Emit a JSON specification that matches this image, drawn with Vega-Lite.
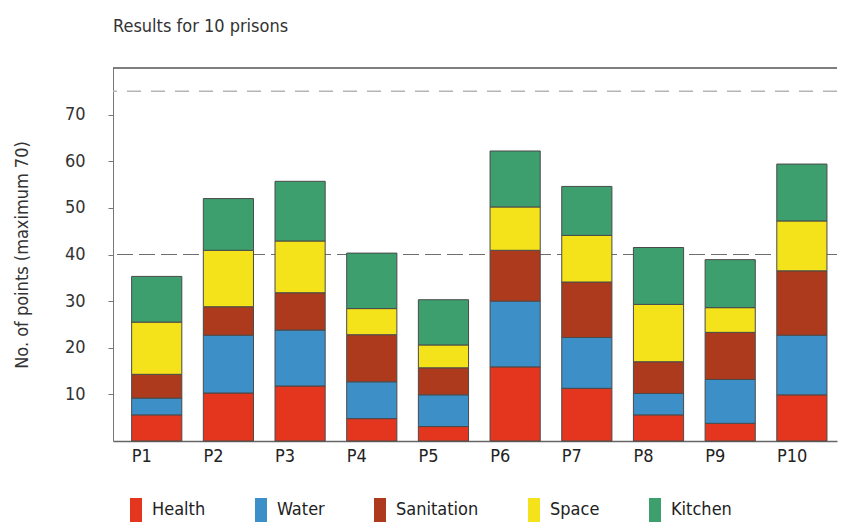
{
  "$schema": "https://vega.github.io/schema/vega-lite/v6.json",
  "width": 724,
  "height": 373,
  "autosize": {"type": "none"},
  "padding": {"left": 113, "top": 68, "right": 5, "bottom": 88},
  "background": "white",
  "title": {
    "text": "Results for 10 prisons",
    "anchor": "start",
    "frame": "group",
    "dx": 0,
    "offset": 31,
    "fontSize": 18,
    "fontWeight": "normal",
    "color": "#333333",
    "font": "DejaVu Sans Condensed"
  },
  "config": {
    "view": {"stroke": null},
    "font": "DejaVu Sans Condensed",
    "axis": {"labelFont": "DejaVu Sans Condensed", "titleFont": "DejaVu Sans Condensed"},
    "legend": {"labelFont": "DejaVu Sans Condensed"}
  },
  "layer": [
    {
      "data": {"values": [{"points": 80}]},
      "mark": {"type": "rule", "color": "#555555", "strokeWidth": 1.5},
      "encoding": {
        "y": {"field": "points", "type": "quantitative", "title": "No. of points (maximum 70)", "scale": {"domain": [0, 80], "nice": false, "zero": true}}
      }
    },
    {
      "data": {"values": [{"points": 75}]},
      "mark": {"type": "rule", "color": "#b5b5b5", "strokeWidth": 1.5, "strokeDash": [14, 10]},
      "encoding": {
        "y": {"field": "points", "type": "quantitative", "title": "No. of points (maximum 70)"}
      }
    },
    {
      "data": {"values": [{"points": 40}]},
      "mark": {"type": "rule", "color": "#6e6e6e", "strokeWidth": 1.2, "strokeDash": [16, 6]},
      "encoding": {
        "y": {"field": "points", "type": "quantitative", "title": "No. of points (maximum 70)"}
      }
    },
    {
      "data": {"values": [
        {"prison": "P1", "factor": "Health", "points": 5.6},
        {"prison": "P1", "factor": "Water", "points": 3.6},
        {"prison": "P1", "factor": "Sanitation", "points": 5.1},
        {"prison": "P1", "factor": "Space", "points": 11.2},
        {"prison": "P1", "factor": "Kitchen", "points": 9.8},
        {"prison": "P2", "factor": "Health", "points": 10.3},
        {"prison": "P2", "factor": "Water", "points": 12.4},
        {"prison": "P2", "factor": "Sanitation", "points": 6.1},
        {"prison": "P2", "factor": "Space", "points": 12.1},
        {"prison": "P2", "factor": "Kitchen", "points": 11.1},
        {"prison": "P3", "factor": "Health", "points": 11.8},
        {"prison": "P3", "factor": "Water", "points": 12.0},
        {"prison": "P3", "factor": "Sanitation", "points": 8.0},
        {"prison": "P3", "factor": "Space", "points": 11.1},
        {"prison": "P3", "factor": "Kitchen", "points": 12.8},
        {"prison": "P4", "factor": "Health", "points": 4.8},
        {"prison": "P4", "factor": "Water", "points": 7.9},
        {"prison": "P4", "factor": "Sanitation", "points": 10.1},
        {"prison": "P4", "factor": "Space", "points": 5.6},
        {"prison": "P4", "factor": "Kitchen", "points": 11.9},
        {"prison": "P5", "factor": "Health", "points": 3.1},
        {"prison": "P5", "factor": "Water", "points": 6.8},
        {"prison": "P5", "factor": "Sanitation", "points": 5.8},
        {"prison": "P5", "factor": "Space", "points": 4.9},
        {"prison": "P5", "factor": "Kitchen", "points": 9.7},
        {"prison": "P6", "factor": "Health", "points": 15.9},
        {"prison": "P6", "factor": "Water", "points": 14.1},
        {"prison": "P6", "factor": "Sanitation", "points": 10.9},
        {"prison": "P6", "factor": "Space", "points": 9.3},
        {"prison": "P6", "factor": "Kitchen", "points": 12.0},
        {"prison": "P7", "factor": "Health", "points": 11.3},
        {"prison": "P7", "factor": "Water", "points": 10.9},
        {"prison": "P7", "factor": "Sanitation", "points": 11.9},
        {"prison": "P7", "factor": "Space", "points": 10.0},
        {"prison": "P7", "factor": "Kitchen", "points": 10.5},
        {"prison": "P8", "factor": "Health", "points": 5.6},
        {"prison": "P8", "factor": "Water", "points": 4.6},
        {"prison": "P8", "factor": "Sanitation", "points": 6.8},
        {"prison": "P8", "factor": "Space", "points": 12.3},
        {"prison": "P8", "factor": "Kitchen", "points": 12.2},
        {"prison": "P9", "factor": "Health", "points": 3.8},
        {"prison": "P9", "factor": "Water", "points": 9.4},
        {"prison": "P9", "factor": "Sanitation", "points": 10.1},
        {"prison": "P9", "factor": "Space", "points": 5.3},
        {"prison": "P9", "factor": "Kitchen", "points": 10.3},
        {"prison": "P10", "factor": "Health", "points": 9.9},
        {"prison": "P10", "factor": "Water", "points": 12.8},
        {"prison": "P10", "factor": "Sanitation", "points": 13.8},
        {"prison": "P10", "factor": "Space", "points": 10.7},
        {"prison": "P10", "factor": "Kitchen", "points": 12.2}
      ]},
      "transform": [
        {"calculate": "indexof(['Health','Water','Sanitation','Space','Kitchen'], datum.factor)", "as": "stackOrder"}
      ],
      "mark": {"type": "bar", "stroke": "#4a4a4a", "strokeWidth": 1},
      "encoding": {
        "x": {
          "field": "prison",
          "type": "nominal",
          "sort": ["P1", "P2", "P3", "P4", "P5", "P6", "P7", "P8", "P9", "P10"],
          "scale": {"paddingInner": 0.3, "paddingOuter": 0.2, "align": 0.65},
          "axis": {
            "title": null,
            "labelAngle": 0,
            "labelAlign": "left",
            "labelOffset": -25,
            "labelFontSize": 18,
            "labelColor": "#222222",
            "labelPadding": 6,
            "ticks": false,
            "domainColor": "#666666",
            "domainWidth": 1.5
          }
        },
        "y": {
          "field": "points",
          "type": "quantitative",
          "title": "No. of points (maximum 70)",
          "axis": {
            "values": [10, 20, 30, 40, 50, 60, 70],
            "grid": false,
            "labelFontSize": 18,
            "labelColor": "#333333",
            "labelPadding": 23,
            "tickColor": "#777777",
            "tickSize": 5,
            "domainColor": "#777777",
            "titleFontSize": 18,
            "titleFontWeight": "normal",
            "titleColor": "#333333",
            "titlePadding": 33
          }
        },
        "color": {
          "field": "factor",
          "type": "nominal",
          "scale": {
            "domain": ["Health", "Water", "Sanitation", "Space", "Kitchen"],
            "range": ["#e4361f", "#3d8fc8", "#ae3a1d", "#f4e21a", "#3e9f6e"]
          },
          "legend": {
            "title": null,
            "orient": "none",
            "direction": "horizontal",
            "columns": 5,
            "legendX": 11,
            "legendY": 430,
            "symbolType": "M-0.5,-1H0.5V1H-0.5Z",
            "symbolSize": 576,
            "symbolStrokeWidth": 0,
            "labelFontSize": 18,
            "labelColor": "#222222",
            "labelOffset": 4,
            "columnPadding": 43
          }
        },
        "order": {"field": "stackOrder", "type": "quantitative", "sort": "ascending"}
      }
    }
  ]
}
